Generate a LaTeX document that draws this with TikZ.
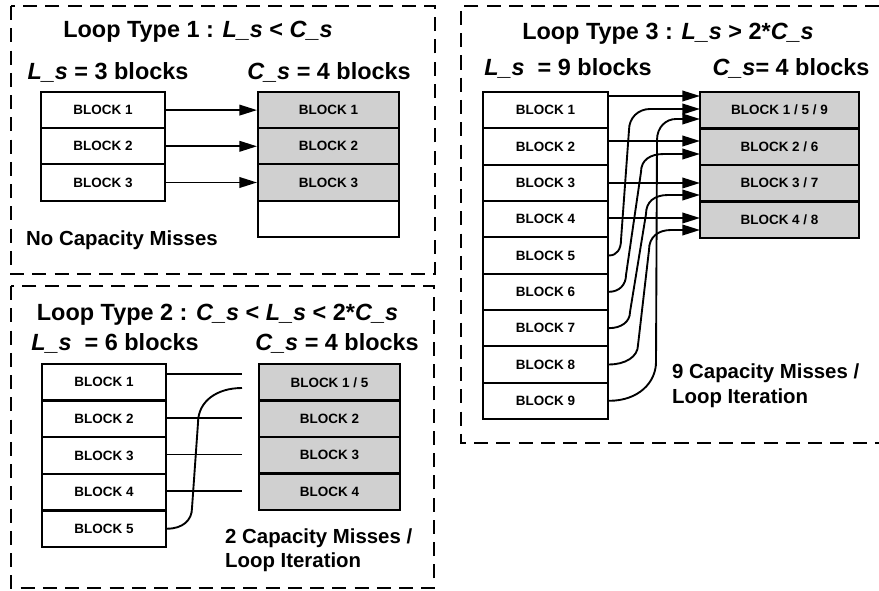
\documentclass[tikz,border=0pt]{standalone}
\usepackage{fontspec}
\setmainfont{Liberation Sans}
\usetikzlibrary{arrows.meta}
\definecolor{cellgray}{RGB}{208,208,208}
\newcommand\headfont{\fontsize{20}{24}\selectfont\bfseries}
\newcommand\blkfont{\fontsize{11.5}{13}\selectfont\bfseries}
\newcommand\notefont{\fontsize{17.4}{20}\selectfont\bfseries}
\begin{document}
\begin{tikzpicture}[x=0.03cm,y=-0.03cm,
  blk/.style={draw, line width=1.7pt, minimum height=1.09cm, inner sep=0pt, font=\blkfont, fill=white},
  cblk/.style={blk, fill=cellgray},
  panel/.style={line width=1.5pt, dash pattern=on 12pt off 7pt},
  conn/.style={line width=1.6pt},
  arr/.style={conn, -{Triangle[length=15pt,width=9pt]}},
  head/.style={font=\headfont, anchor=base, inner sep=0pt},
  note/.style={font=\notefont, anchor=base west, inner sep=0pt},
]
\useasboundingbox (0,0) rectangle (879,590);

% ---------- panel borders
\draw[panel] (11,6) rectangle (435,274);
\draw[panel] (11,286) rectangle (434,588);
\draw[panel] (879,6) -- (461,6) -- (461,443) -- (879,443);

% ---------- Panel 1
\node[head] (t1) at (198,38) {Loop Type 1 : \textit{L\_s} < \textit{C\_s}};
\node[head] (ls1) at (108,80) {\textit{L\_s} = 3 blocks};
\node[head] (cs1) at (329,80) {\textit{C\_s} = 4 blocks};
\foreach \i in {1,2,3}
  \node[blk, minimum width=3.72cm] (p1l\i) at (103,{92+(\i-0.5)*36.2}) {BLOCK \i};
\foreach \i in {1,2,3}
  \node[cblk, minimum width=4.23cm] (p1c\i) at (328.5,{92+(\i-0.5)*36.2}) {BLOCK \i};
\node[blk, minimum width=4.23cm] (p1c4) at (328.5,{92+3.5*36.2}) {};
\foreach \i in {1,2,3}
  \draw[arr] (p1l\i.east) -- (p1c\i.west);
\node[note] (n1) at (26,245) {No Capacity Misses};

% ---------- Panel 2
\node[head] (t2) at (217.5,320) {Loop Type 2 : \textit{C\_s} < \textit{L\_s} < 2*\textit{C\_s}};
\node[head] (ls2) at (115,350.5) {\textit{L\_s}\ \ = 6 blocks};
\node[head] (cs2) at (337,350.5) {\textit{C\_s} = 4 blocks};
\foreach \i in {1,...,5}
  \node[blk, minimum width=3.72cm] (p2l\i) at (104,{364+(\i-0.5)*36.6}) {BLOCK \i};
\node[cblk, minimum width=4.23cm] (p2c1) at (329.5,{364+0.5*36.5}) {BLOCK 1 / 5};
\foreach \i in {2,3,4}
  \node[cblk, minimum width=4.23cm] (p2c\i) at (329.5,{364+(\i-0.5)*36.5}) {BLOCK \i};
\coordinate (p2e1) at (242,374);
\coordinate (p2e2) at (242,418);
\coordinate (p2e3) at (242,454.5);
\coordinate (p2e4) at (242,491);
\coordinate (p2e5) at (242,388);
\draw[conn] (p2l1.east |- p2e1) -- (p2e1);
\draw[conn] (p2l2.east |- p2e2) -- (p2e2);
\draw[conn] (p2l3.east |- p2e3) -- (p2e3);
\draw[conn] (p2l4.east |- p2e4) -- (p2e4);
\draw[conn] (p2l5.east) .. controls +(16,0) and +(0,12) .. (192,508) -- (198,423)
  .. controls +(0,-22) and +(-25,0) .. (p2e5);
\node[note] (n2a) at (225,543) {2 Capacity Misses /};
\node[note] (n2b) at (225,567) {Loop Iteration};

% ---------- Panel 3
\node[head] (t3) at (668,40) {Loop Type 3 : \textit{L\_s} > 2*\textit{C\_s}};
\node[head] (ls3) at (568,75) {\textit{L\_s}\ \ = 9 blocks};
\node[head] (cs3) at (791,75) {\textit{C\_s}= 4 blocks};
\foreach \i in {1,...,9}
  \node[blk, minimum width=3.75cm] (p3l\i) at (545.5,{92+(\i-0.5)*36.33}) {BLOCK \i};
\node[cblk, minimum width=4.77cm] (p3c1) at (779.5,{92+0.5*36.5}) {BLOCK 1 / 5 / 9};
\node[cblk, minimum width=4.77cm] (p3c2) at (779.5,{92+1.5*36.5}) {BLOCK 2 / 6};
\node[cblk, minimum width=4.77cm] (p3c3) at (779.5,{92+2.5*36.5}) {BLOCK 3 / 7};
\node[cblk, minimum width=4.77cm] (p3c4) at (779.5,{92+3.5*36.5}) {BLOCK 4 / 8};
\coordinate (e1) at (700,96);
\coordinate (e5) at (700,109);
\coordinate (e9) at (700,119);
\coordinate (e2) at (700,141);
\coordinate (e6) at (700,154);
\coordinate (e3) at (700,183);
\coordinate (e7) at (700,195);
\coordinate (e4) at (700,218);
\coordinate (e8) at (700,230);
\draw[arr] (p3l1.east |- e1) -- (e1);
\draw[arr] (p3l2.east |- e2) -- (e2);
\draw[arr] (p3l3.east |- e3) -- (e3);
\draw[arr] (p3l4.east |- e4) -- (e4);
\draw[arr] (p3l5.east) .. controls +(8,0) and +(0,9) .. (621,240) -- (629,130)
  .. controls +(0,-12) and +(-12,0) .. (650,109) -- (e5);
\draw[arr] (p3l6.east) .. controls +(10,0) and +(0,10) .. (626,275) -- (641,172)
  .. controls +(0,-12) and +(-14,0) .. (664,154) -- (e6);
\draw[arr] (p3l7.east) .. controls +(12,0) and +(0,10) .. (630,312) -- (646,214)
  .. controls +(0,-12) and +(-14,0) .. (668,195) -- (e7);
\draw[arr] (p3l8.east) .. controls +(16,0) and +(0,12) .. (638,345) -- (649,250)
  .. controls +(0,-13) and +(-13,0) .. (671,230) -- (e8);
\draw[arr] (p3l9.east) .. controls +(30,0) and +(0,20) .. (656,362) -- (657,140)
  .. controls +(0,-13) and +(-10,0) .. (676,119) -- (e9);
\node[note] (n3a) at (672,378) {9 Capacity Misses /};
\node[note] (n3b) at (672,403) {Loop Iteration};
\end{tikzpicture}
\end{document}
